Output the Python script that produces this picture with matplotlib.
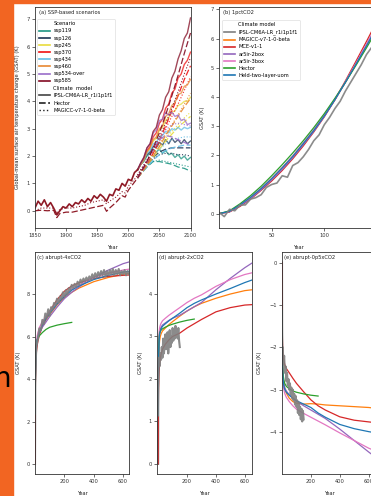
import matplotlib
matplotlib.use("Agg")
import matplotlib.pyplot as plt
from matplotlib.lines import Line2D
from matplotlib.patches import Rectangle

# ---------------- (a) SSP-based scenarios ----------------
hist_years = list(range(1850, 2016, 5))
ipsl_hist = [0.1, 0.35, 0.2, 0.4, 0.15, 0.3, 0.1, -0.15, 0.0, 0.15, 0.1, 0.25,
             0.15, 0.3, 0.25, 0.4, 0.3, 0.45, 0.35, 0.55, 0.45, 0.6, 0.5, 0.35,
             0.6, 0.55, 0.8, 0.75, 1.0, 0.9, 1.15, 1.1, 1.4, 1.5]
hist_years_smooth = [1850, 1860, 1870, 1880, 1885, 1890, 1900, 1910, 1920, 1930, 1940,
                     1950, 1960, 1965, 1970, 1980, 1990, 1995, 2000, 2010, 2015]
hector_hist = [0.0, 0.02, 0.0, 0.02, -0.25, -0.1, -0.05, -0.05, 0.0, 0.05, 0.1,
               0.15, 0.2, -0.02, 0.1, 0.3, 0.55, 0.5, 0.75, 1.05, 1.2]
magicc_hist = [0.0, 0.1, 0.1, 0.1, -0.1, 0.05, 0.1, 0.1, 0.15, 0.2, 0.3,
               0.35, 0.4, 0.25, 0.35, 0.5, 0.7, 0.65, 0.9, 1.15, 1.3]

scen_years = list(range(2015, 2101, 5))
scen_years_smooth = [2015, 2020, 2030, 2040, 2050, 2060, 2070, 2080, 2090, 2100]

scenarios = ["ssp119", "ssp126", "ssp245", "ssp370", "ssp434", "ssp460", "ssp534-over", "ssp585"]
scen_colors = ["#1e9583", "#1d3354", "#e9dc3d", "#f11111", "#63bde5", "#e88831", "#9a6dc9", "#830b22"]

ipsl_ssp119 = [1.5, 1.7, 1.8, 2.0, 2.1, 2.25, 2.15, 2.25, 2.1, 2.2, 2.05, 2.1, 1.95, 2.05, 1.9, 2.0, 1.85, 1.95]
ipsl_ssp126 = [1.5, 1.7, 1.85, 2.05, 2.15, 2.35, 2.3, 2.5, 2.4, 2.6, 2.45, 2.65, 2.5, 2.6, 2.45, 2.6, 2.45, 2.55]
ipsl_ssp245 = [1.5, 1.7, 1.85, 2.15, 2.3, 2.55, 2.65, 2.95, 3.05, 3.3, 3.4, 3.6, 3.65, 3.85, 3.9, 4.0, 4.0, 4.15]
ipsl_ssp370 = [1.5, 1.7, 1.9, 2.2, 2.35, 2.7, 2.85, 3.2, 3.35, 3.75, 3.9, 4.3, 4.45, 4.85, 5.0, 5.35, 5.5, 5.8]
ipsl_ssp434 = [1.5, 1.7, 1.85, 2.1, 2.2, 2.45, 2.5, 2.7, 2.75, 2.9, 2.85, 3.0, 2.95, 3.05, 2.95, 3.05, 3.0, 3.05]
ipsl_ssp460 = [1.5, 1.7, 1.85, 2.15, 2.3, 2.6, 2.7, 3.0, 3.1, 3.45, 3.55, 3.85, 3.95, 4.25, 4.3, 4.55, 4.6, 4.8]
ipsl_ssp534 = [1.5, 1.75, 1.95, 2.3, 2.45, 2.85, 2.95, 3.3, 3.35, 3.6, 3.5, 3.6, 3.45, 3.5, 3.3, 3.35, 3.15, 3.2]
ipsl_ssp585 = [1.5, 1.75, 1.95, 2.3, 2.45, 2.9, 3.05, 3.5, 3.7, 4.15, 4.35, 4.85, 5.1, 5.55, 5.85, 6.3, 6.5, 7.05]

hector_ssp119 = [1.2, 1.35, 1.6, 1.8, 1.8, 1.75, 1.7, 1.6, 1.55, 1.45]
hector_ssp126 = [1.2, 1.35, 1.65, 1.95, 2.15, 2.25, 2.3, 2.3, 2.3, 2.3]
hector_ssp245 = [1.2, 1.35, 1.65, 1.95, 2.25, 2.55, 2.8, 3.05, 3.25, 3.45]
hector_ssp370 = [1.2, 1.35, 1.7, 2.1, 2.6, 3.1, 3.65, 4.2, 4.8, 5.3]
hector_ssp434 = [1.2, 1.35, 1.6, 1.85, 2.05, 2.2, 2.3, 2.35, 2.4, 2.4]
hector_ssp460 = [1.2, 1.35, 1.65, 2.0, 2.35, 2.75, 3.1, 3.45, 3.8, 4.1]
hector_ssp534 = [1.2, 1.4, 1.8, 2.25, 2.6, 2.75, 2.7, 2.6, 2.5, 2.4]
hector_ssp585 = [1.2, 1.4, 1.8, 2.3, 2.85, 3.5, 4.2, 4.95, 5.75, 6.5]

magicc_ssp119 = [1.3, 1.45, 1.65, 1.8, 1.85, 1.8, 1.75, 1.7, 1.65, 1.6]
magicc_ssp126 = [1.3, 1.45, 1.7, 1.9, 2.05, 2.1, 2.1, 2.05, 2.05, 2.0]
magicc_ssp245 = [1.3, 1.45, 1.75, 2.05, 2.35, 2.65, 2.9, 3.15, 3.4, 3.6]
magicc_ssp370 = [1.3, 1.45, 1.8, 2.15, 2.55, 3.0, 3.45, 3.9, 4.4, 4.9]
magicc_ssp434 = [1.3, 1.45, 1.7, 2.0, 2.25, 2.45, 2.6, 2.65, 2.7, 2.7]
magicc_ssp460 = [1.3, 1.45, 1.75, 2.1, 2.45, 2.8, 3.15, 3.5, 3.9, 4.3]
magicc_ssp534 = [1.3, 1.5, 1.85, 2.25, 2.6, 2.95, 3.15, 3.2, 3.15, 3.1]
magicc_ssp585 = [1.3, 1.5, 1.85, 2.25, 2.7, 3.2, 3.75, 4.35, 5.0, 5.6]

# ---------------- (b) 1pctCO2 ----------------
model_names = ["IPSL-CM6A-LR_r1i1p1f1", "MAGICC-v7-1-0-beta", "MCE-v1-1", "ar5ir-2box",
               "ar5ir-3box", "Hector", "Held-two-layer-uom"]
model_colors = ["#7f7f7f", "#ff7f0e", "#d62728", "#9467bd", "#e377c2", "#2ca02c", "#1f77b4"]

pct_years = [0, 10, 20, 30, 40, 50, 60, 70, 80, 90, 100, 110, 120, 130, 140, 150]
pct_magicc = [0, 0.07, 0.28, 0.55, 0.85, 1.2, 1.57, 1.97, 2.4, 2.85, 3.35, 3.9, 4.5, 5.12, 5.75, 6.35]
pct_mce = [0, 0.06, 0.25, 0.5, 0.8, 1.12, 1.48, 1.88, 2.32, 2.8, 3.32, 3.9, 4.55, 5.22, 5.9, 6.6]
pct_2box = [0, 0.07, 0.27, 0.52, 0.82, 1.16, 1.52, 1.92, 2.36, 2.82, 3.33, 3.9, 4.5, 5.13, 5.8, 6.45]
pct_3box = [0, 0.08, 0.3, 0.56, 0.87, 1.21, 1.58, 1.98, 2.42, 2.88, 3.38, 3.93, 4.52, 5.15, 5.8, 6.45]
pct_hector = [0, 0.1, 0.34, 0.62, 0.94, 1.3, 1.68, 2.08, 2.5, 2.95, 3.43, 3.95, 4.5, 5.08, 5.68, 6.3]
pct_held = [0, 0.08, 0.3, 0.56, 0.86, 1.2, 1.57, 1.96, 2.4, 2.85, 3.35, 3.9, 4.5, 5.12, 5.75, 6.4]
pct_ipsl_years = list(range(0, 151, 5))
pct_ipsl = [0.05, -0.1, 0.15, 0.1, 0.3, 0.3, 0.5, 0.55, 0.65, 0.9, 1.0, 1.05, 1.3, 1.25,
            1.65, 1.75, 1.95, 2.2, 2.5, 2.7, 3.05, 3.3, 3.6, 3.85, 4.2, 4.5, 4.8, 5.1, 5.45, 5.7, 6.0]

# ---------------- (c)-(e) abrupt experiments ----------------
ab_years = [0, 1, 2, 3, 5, 7, 10, 15, 20, 30, 50, 75, 100, 150, 200, 250, 300, 400, 500, 600, 650]

x4_magicc = [0, 2.5, 3.5, 4.1, 4.8, 5.2, 5.5, 5.8, 5.95, 6.2, 6.5, 6.8, 7.05, 7.5, 7.85, 8.1, 8.3, 8.6, 8.8, 8.95, 9.0]
x4_mce = [0, 2.3, 3.3, 3.9, 4.6, 5.0, 5.3, 5.6, 5.8, 6.1, 6.5, 6.9, 7.2, 7.75, 8.15, 8.4, 8.55, 8.75, 8.85, 8.9, 8.92]
x4_2box = [0, 2.6, 3.6, 4.2, 4.9, 5.3, 5.6, 5.85, 6.0, 6.2, 6.45, 6.7, 6.95, 7.4, 7.8, 8.1, 8.35, 8.8, 9.15, 9.45, 9.55]
x4_3box = [0, 2.8, 3.8, 4.4, 5.1, 5.5, 5.8, 6.05, 6.2, 6.45, 6.7, 6.95, 7.2, 7.6, 7.95, 8.25, 8.45, 8.8, 9.0, 9.15, 9.2]
x4_hector = [0, 2.6, 3.6, 4.3, 5.0, 5.4, 5.65, 5.85, 5.95, 6.05, 6.2, 6.35, 6.45, 6.55, 6.62, 6.68]
x4_held = [0, 2.5, 3.5, 4.15, 4.85, 5.25, 5.55, 5.85, 6.0, 6.25, 6.55, 6.85, 7.1, 7.55, 7.9, 8.2, 8.4, 8.7, 8.9, 9.05, 9.1]
x4_ipsl_years = [0, 2, 5] + list(range(10, 651, 10))
x4_ipsl = [0, 3.8, 4.9, 5.6, 5.9, 6.4, 6.3, 6.8, 6.6, 7.1, 6.9, 7.3, 7.0, 7.4, 7.3, 7.6, 7.5, 7.8,
           7.6, 7.9, 7.8, 8.1, 7.9, 8.2, 8.0, 8.3, 8.2, 8.45, 8.3, 8.5, 8.35, 8.6, 8.45, 8.7,
           8.55, 8.75, 8.6, 8.8, 8.65, 8.85, 8.7, 8.95, 8.75, 9.0, 8.8, 9.05, 8.85, 9.1, 8.9,
           9.15, 8.85, 9.1, 8.9, 9.15, 8.95, 9.2, 8.9, 9.15, 8.95, 9.2, 8.9, 9.1, 8.95, 9.15,
           8.9, 9.1, 8.95, 9.05]

x2_magicc = [0, 1.4, 1.9, 2.2, 2.55, 2.75, 2.9, 3.0, 3.06, 3.13, 3.2, 3.28, 3.35, 3.48, 3.6, 3.7, 3.78, 3.9, 4.0, 4.08, 4.1]
x2_mce = [0, 1.1, 1.55, 1.8, 2.05, 2.2, 2.35, 2.48, 2.58, 2.7, 2.82, 2.92, 3.0, 3.08, 3.2, 3.3, 3.4, 3.58, 3.68, 3.74, 3.75]
x2_2box = [0, 1.5, 2.1, 2.4, 2.75, 2.95, 3.08, 3.17, 3.22, 3.27, 3.32, 3.38, 3.43, 3.5, 3.6, 3.7, 3.8, 4.1, 4.37, 4.62, 4.73]
x2_3box = [0, 1.6, 2.25, 2.6, 2.95, 3.1, 3.2, 3.27, 3.31, 3.37, 3.43, 3.5, 3.56, 3.68, 3.8, 3.9, 3.98, 4.18, 4.34, 4.46, 4.5]
x2_hector = [0, 1.5, 2.15, 2.5, 2.85, 3.0, 3.08, 3.12, 3.15, 3.18, 3.22, 3.26, 3.29, 3.34, 3.38, 3.41]
x2_held = [0, 1.45, 2.05, 2.4, 2.75, 2.93, 3.05, 3.13, 3.18, 3.24, 3.3, 3.37, 3.43, 3.55, 3.68, 3.78, 3.86, 4.0, 4.13, 4.27, 4.33]
short_years = [0, 1, 2, 3] + list(range(5, 151, 5))
x2_ipsl = [0, 1.8, 2.2, 2.3, 2.5, 2.3, 2.6, 2.45, 2.75, 2.5, 2.95, 2.6, 2.8, 3.05, 2.7, 2.9, 3.1,
           2.6, 2.9, 3.15, 2.75, 3.0, 2.85, 3.2, 2.9, 3.1, 2.95, 3.25, 3.0, 3.15, 2.95, 3.2, 2.9, 2.75]

x05_magicc = [0, -1.4, -1.9, -2.2, -2.5, -2.65, -2.78, -2.9, -2.98, -3.08, -3.2, -3.28, -3.32, -3.34, -3.33, -3.34, -3.36, -3.38, -3.4, -3.42, -3.44]
x05_mce = [0, -1.1, -1.55, -1.8, -2.05, -2.15, -2.25, -2.35, -2.42, -2.5, -2.6, -2.73, -2.85, -3.05, -3.24, -3.38, -3.48, -3.64, -3.72, -3.76, -3.78]
x05_2box = [0, -1.4, -1.95, -2.25, -2.55, -2.7, -2.8, -2.9, -2.96, -3.03, -3.12, -3.2, -3.27, -3.38, -3.48, -3.58, -3.68, -3.93, -4.2, -4.47, -4.6]
x05_3box = [0, -1.55, -2.1, -2.4, -2.7, -2.85, -2.95, -3.03, -3.1, -3.18, -3.28, -3.38, -3.46, -3.56, -3.65, -3.74, -3.83, -4.02, -4.2, -4.38, -4.45]
x05_hector = [0, -1.3, -1.85, -2.15, -2.45, -2.6, -2.7, -2.8, -2.86, -2.92, -2.98, -3.03, -3.06, -3.1, -3.13, -3.15]
x05_held = [0, -1.45, -2.0, -2.3, -2.6, -2.75, -2.85, -2.95, -3.0, -3.06, -3.13, -3.2, -3.26, -3.34, -3.42, -3.55, -3.65, -3.82, -3.92, -3.99, -4.02]
x05_ipsl = [0, -1.5, -1.9, -2.1, -2.0, -2.4, -2.2, -2.6, -2.45, -2.8, -2.6, -2.9, -2.75, -3.0, -2.85,
            -3.1, -2.95, -3.2, -3.0, -3.25, -3.1, -3.35, -3.15, -3.4, -3.25, -3.55, -3.3, -3.6,
            -3.4, -3.7, -3.45, -3.75, -3.5, -3.7]

FS = 3.7
W, H = 371, 496
fig = plt.figure(figsize=(W / 100, H / 100), dpi=100)


def axes_px(left, top, right, bottom):
    return fig.add_axes([left / W, 1 - bottom / H, (right - left) / W, (bottom - top) / H])


def style(ax, title, ylabel, ylx):
    for s in ax.spines.values():
        s.set_linewidth(0.6)
        s.set_color("#333333")
    ax.tick_params(labelsize=FS, length=2, width=0.5, pad=1.5, colors="#333333")
    ax.text(0.025, 0.985, title, transform=ax.transAxes, fontsize=FS, va="top", ha="left", color="#222222")
    ax.set_xlabel("Year", fontsize=FS, color="#222222")
    ax.set_ylabel(ylabel, fontsize=FS, color="#222222")
    ax.xaxis.set_label_coords(0.5, -0.075)
    ax.yaxis.set_label_coords(ylx, 0.5)


# ---- panel a
ax = axes_px(35, 7, 190.5, 228)
ipsl_all = [ipsl_ssp119, ipsl_ssp126, ipsl_ssp245, ipsl_ssp370, ipsl_ssp434, ipsl_ssp460, ipsl_ssp534, ipsl_ssp585]
hector_all = [hector_ssp119, hector_ssp126, hector_ssp245, hector_ssp370, hector_ssp434, hector_ssp460, hector_ssp534, hector_ssp585]
magicc_all = [magicc_ssp119, magicc_ssp126, magicc_ssp245, magicc_ssp370, magicc_ssp434, magicc_ssp460, magicc_ssp534, magicc_ssp585]
for name, col, ip, he, ma in zip(scenarios, scen_colors, ipsl_all, hector_all, magicc_all):
    ax.plot(scen_years_smooth, ma, color=col, lw=0.8, ls=":", alpha=0.9)
    ax.plot(scen_years_smooth, he, color=col, lw=0.9, ls=(0, (5, 2)), alpha=0.9)
    ax.plot(scen_years, ip, color=col, lw=1.0, alpha=0.75)
ax.plot(hist_years_smooth, magicc_hist, color="#8f1a26", lw=0.8, ls=":")
ax.plot(hist_years_smooth, hector_hist, color="#8f1a26", lw=0.9, ls=(0, (5, 2)))
ax.plot(hist_years, ipsl_hist, color="#8f1a26", lw=1.2)
ax.set_xlim(1850, 2100)
ax.set_ylim(-0.63, 7.45)
ax.set_xticks([1850, 1900, 1950, 2000, 2050, 2100])
ax.set_yticks(range(0, 8))
style(ax, "(a) SSP-based scenarios", "Global-mean surface air temperature change (GSAT) (K)", -0.096)

hdr = Line2D([], [], color="none")
handles = [hdr] + [Line2D([], [], color=c, lw=1.2) for c in scen_colors]
handles += [hdr, Line2D([], [], color="#444444", lw=1.2),
            Line2D([], [], color="#222222", lw=1.2, ls=(0, (4, 1.5))),
            Line2D([], [], color="#222222", lw=1.0, ls=":")]
labels = ["Scenario"] + scenarios + ["Climate  model", "IPSL-CM6A-LR_r1i1p1f1", "Hector", "MAGICC-v7-1-0-beta"]
leg = ax.legend(handles, labels, loc="upper left", bbox_to_anchor=(0.012, 0.945), borderaxespad=0,
                fontsize=FS, labelspacing=0.42, handlelength=2.2, handletextpad=0.6,
                borderpad=0.4, frameon=True, fancybox=True)
leg.get_frame().set_linewidth(0.4)
leg.get_frame().set_edgecolor("#cccccc")

# ---- panel b
ax = axes_px(219, 7, 377, 228)
pct_series = [pct_magicc, pct_mce, pct_2box, pct_3box, pct_hector, pct_held]
for vals, col in zip(pct_series, model_colors[1:]):
    ax.plot(pct_years, vals, color=col, lw=0.9)
ax.plot(pct_ipsl_years, pct_ipsl, color=model_colors[0], lw=1.2, alpha=0.9)
ax.set_xlim(0, 150)
ax.set_ylim(-0.49, 7.08)
ax.set_xticks([50, 100, 150])
ax.set_yticks(range(0, 8))
style(ax, "(b) 1pctCO2", "GSAT (K)", -0.09)
handles = [hdr] + [Line2D([], [], color=c, lw=1.2) for c in model_colors]
labels = ["Climate model"] + model_names
leg = ax.legend(handles, labels, loc="upper left", bbox_to_anchor=(0.018, 0.94), borderaxespad=0,
                fontsize=FS, labelspacing=0.42, handlelength=2.2, handletextpad=0.6,
                borderpad=0.4, frameon=True, fancybox=True)
leg.get_frame().set_linewidth(0.4)
leg.get_frame().set_edgecolor("#cccccc")

# ---- panels c, d, e
panels = [
    ((35, 252, 129, 474), "(c) abrupt-4xCO2", [x4_magicc, x4_mce, x4_2box, x4_3box, x4_hector, x4_held],
     x4_ipsl_years, x4_ipsl, (0, 640), (-0.47, 10.0), [0, 2, 4, 6, 8], -0.152),
    ((157, 252, 252, 474), "(d) abrupt-2xCO2", [x2_magicc, x2_mce, x2_2box, x2_3box, x2_hector, x2_held],
     short_years, x2_ipsl, (-8, 650), (-0.24, 4.99), [0, 1, 2, 3, 4], -0.15),
    ((282, 252, 376, 474), "(e) abrupt-0p5xCO2", [x05_magicc, x05_mce, x05_2box, x05_3box, x05_hector, x05_held],
     short_years, x05_ipsl, (0, 651), (-4.99, 0.25), [0, -1, -2, -3, -4], -0.21),
]
for box, title, series, iy, iv, xl, yl, yt, ylx in panels:
    ax = axes_px(*box)
    for vals, col in zip(series, model_colors[1:]):
        ax.plot(ab_years[:len(vals)], vals, color=col, lw=0.9)
    ax.plot(iy, iv, color=model_colors[0], lw=1.5, alpha=0.9)
    ax.plot(ab_years[:2], series[1][:2], color=model_colors[2], lw=0.9)
    ax.set_xlim(*xl)
    ax.set_ylim(*yl)
    ax.set_xticks([200, 400, 600])
    ax.set_yticks(yt)
    style(ax, title, "GSAT (K)", ylx)

# slide background bits around the cropped figure
fig.patches.append(Rectangle((0, 0), 13 / W, 1, transform=fig.transFigure, color="#f26522", zorder=10))
fig.patches.append(Rectangle((0, 1 - 2.5 / H), 1, 2.5 / H, transform=fig.transFigure, color="#f26522", zorder=10))
fig.text(11.5 / W, 1 - 387 / H, "n", fontsize=20, ha="right", va="baseline", color="black", zorder=11)

fig.savefig("out.png", dpi=100)
